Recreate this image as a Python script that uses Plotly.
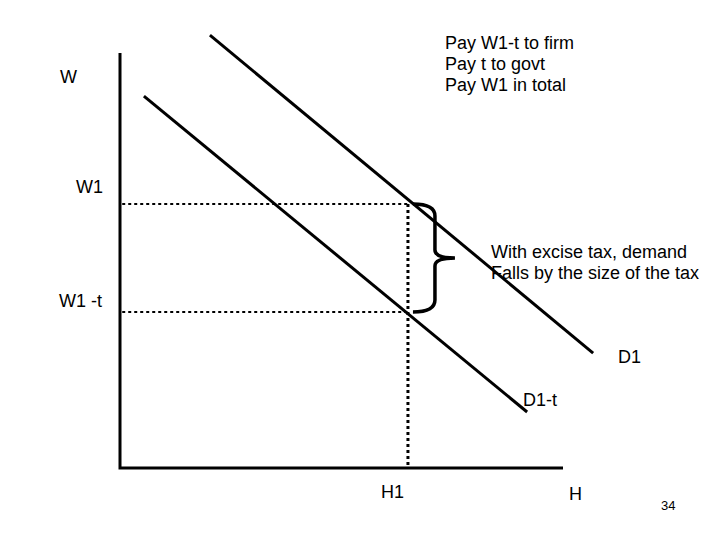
import plotly.graph_objects as go

# ---- data (economic units: H on x, W on y) ----
axis_x = [0, 0, 10]          # vertical axis top -> origin -> horizontal end
axis_y = [10, 0, 0]
d1_x = [2.03, 10.68]
d1_y = [10.43, 2.77]
d1t_x = [0.54, 9.19]
d1t_y = [8.96, 1.35]
W1 = 6.36
W1_t = 3.76
H1 = 6.5

pay_lines = ["Pay W1-t to firm", "Pay t to govt", "Pay W1 in total"]
note_lines = ["With excise tax, demand", "Falls by the size of the tax"]

# pixel mapping helpers
KX, KY = 44.3, 41.5
OX, OY = 120, 468
def px(x):
    return (x - OX) / KX
def py(y):
    return (OY - y) / KY

FONT = "Liberation Sans, Arial, sans-serif"
fig = go.Figure()

blk = "black"
fig.add_trace(go.Scatter(x=axis_x, y=axis_y, mode="lines",
                         line=dict(color=blk, width=3), hoverinfo="skip"))
fig.add_trace(go.Scatter(x=d1_x, y=d1_y, mode="lines",
                         line=dict(color=blk, width=3), hoverinfo="skip"))
fig.add_trace(go.Scatter(x=d1t_x, y=d1t_y, mode="lines",
                         line=dict(color=blk, width=3), hoverinfo="skip"))
# dotted guides
fig.add_trace(go.Scatter(x=[0.05, H1 + 0.05], y=[W1, W1], mode="lines",
                         line=dict(color=blk, width=2, dash="dot"), hoverinfo="skip"))
fig.add_trace(go.Scatter(x=[0.05, H1 + 0.05], y=[W1_t, W1_t], mode="lines",
                         line=dict(color=blk, width=2, dash="dot"), hoverinfo="skip"))
fig.add_trace(go.Scatter(x=[H1, H1], y=[W1, 0], mode="lines",
                         line=dict(color=blk, width=3, dash="dot"), hoverinfo="skip"))

# brace between W1 and W1-t
bx0 = H1 + 5 / KX
bx1 = H1 + 27 / KX
bx2 = H1 + 47 / KX
mid = (W1 + W1_t) / 2
r = 12 / KY
s = 8 / KY
path = (f"M {bx0},{W1} Q {bx1},{W1} {bx1},{W1 - r} "
        f"L {bx1},{mid + s} Q {bx1},{mid} {bx2},{mid} "
        f"Q {bx1},{mid} {bx1},{mid - s} "
        f"L {bx1},{W1_t + r} Q {bx1},{W1_t} {bx0},{W1_t}")
fig.add_shape(type="path", path=path, xref="x", yref="y",
              line=dict(color=blk, width=3.5))

def ann(text, x, y, xa="left", size=18):
    fig.add_annotation(x=x, y=y, xref="x", yref="y", text=text, showarrow=False,
                       xanchor=xa, yanchor="middle",
                       font=dict(family=FONT, size=size, color="black"), align="left")

ann("W", px(79), py(77), "right")
ann("W1", px(105), py(187), "right")
ann("W1 -t", px(104), py(301), "right")
for i, t in enumerate(pay_lines):
    ann(t, px(443), py(43 + 21 * i))
for i, t in enumerate(note_lines):
    ann(t, px(489), py(252 + 21 * i))
ann("D1", px(616), py(357))
ann("D1-t", px(521), py(400))
ann("H1", px(379), py(492))
ann("H", px(567), py(494))
ann("34", px(659), py(505), size=13)

# the page body has an 8px margin: shift ranges so page pixels line up
fig.update_layout(
    width=720, height=540, margin=dict(l=0, r=0, t=0, b=0),
    paper_bgcolor="white", plot_bgcolor="white", showlegend=False,
    xaxis=dict(range=[px(8), px(728)], visible=False, fixedrange=True),
    yaxis=dict(range=[py(548), py(8)], visible=False, fixedrange=True),
)
fig.write_html("out.html")
